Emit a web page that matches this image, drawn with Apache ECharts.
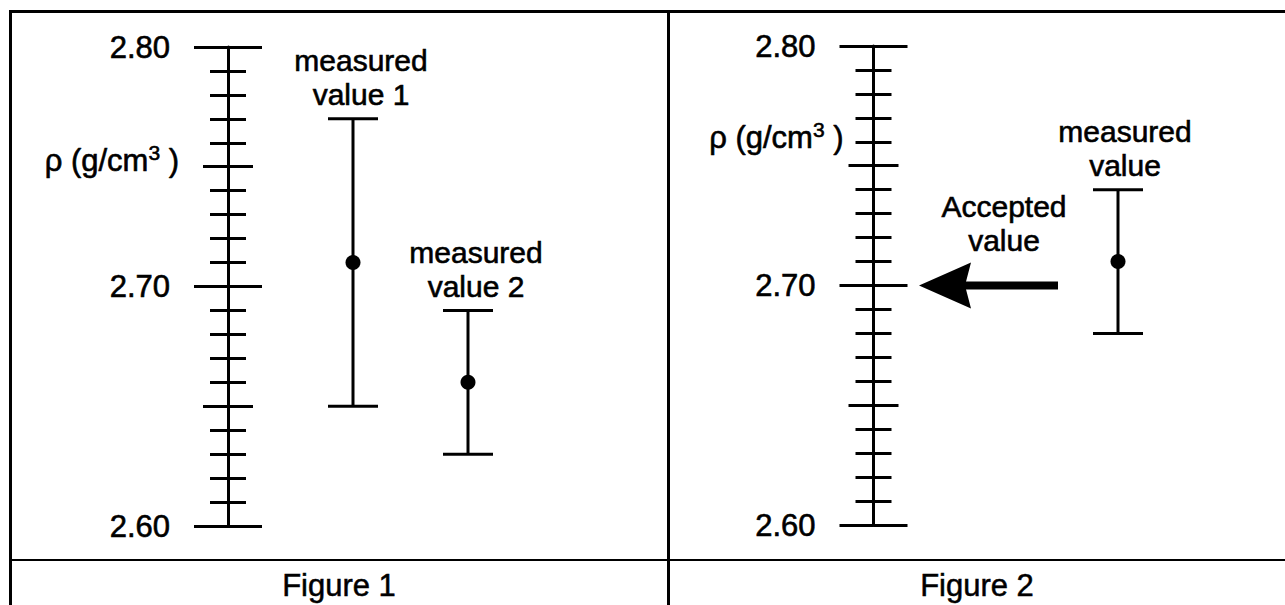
<!DOCTYPE html>
<html>
<head>
<meta charset="utf-8">
<title>Density measurements</title>
<script src="https://cdn.jsdelivr.net/npm/echarts@6/dist/echarts.min.js"></script>
<style>
  html, body { margin: 0; padding: 0; background: #ffffff; }
  #chart { width: 1285px; height: 605px; }
</style>
</head>
<body>
<div id="chart"></div>
<script>
// ---------------- data ----------------
const Y_MIN = 2.60;
const Y_MAX = 2.80;
const Y_TICK_LABELS = ['2.60', '2.70', '2.80'];
const Y_NAME_PARTS = ['ρ (g/cm', '3', ' )'];

const FIG1_CATEGORIES = ['measured\nvalue 1', 'measured\nvalue 2'];
const FIG1_MEANS = [2.71, 2.66];
const FIG1_ERRORS = [0.06, 0.03];

const FIG2_CATEGORIES = ['Accepted\nvalue', 'measured\nvalue'];
const FIG2_ACCEPTED = [2.70];
const FIG2_MEANS = [2.71];
const FIG2_ERRORS = [0.03];

const CAPTIONS = ['Figure 1', 'Figure 2'];

// ---------------- styles ----------------
const FONT = '"Liberation Sans", Arial, Helvetica, sans-serif';
const FS = 31;
const LABEL_FS = 30;
const LABEL_LH = 34;
const INK = '#000000';
const HEAVY = { textBorderColor: INK, textBorderWidth: 0.6 };

function tickLabel(v) {
  const t = Y_TICK_LABELS.find(s => Math.abs(parseFloat(s) - v) < 1e-6);
  return t || '';
}

function yAxesFor(gridIndex, offset, nameGap, namePad) {
  const base = {
    gridIndex: gridIndex, type: 'value', min: Y_MIN, max: Y_MAX,
    position: 'left', offset: offset,
    splitLine: { show: false }, axisLine: { show: false },
    axisLabel: { show: false }, axisTick: { show: false },
    minorTick: { show: false }, splitArea: { show: false }
  };
  const tickStyle = { color: INK, width: 3 };
  return [
    Object.assign({}, base, {
      interval: 0.1,
      axisLine: { show: true, lineStyle: { color: INK, width: 3 } },
      axisTick: { show: true, inside: false, length: 34, lineStyle: tickStyle },
      axisLabel: Object.assign({
        show: true, margin: 58, formatter: tickLabel,
        color: INK, fontSize: FS, fontFamily: FONT, padding: [0, 0, 6, 0]
      }, HEAVY),
      name: '{a|' + Y_NAME_PARTS[0] + '}{s|' + Y_NAME_PARTS[1] + '}{a|' + Y_NAME_PARTS[2] + '}',
      nameLocation: 'end', nameGap: nameGap,
      nameTextStyle: {
        color: INK, fontSize: FS, fontFamily: FONT,
        align: 'right', verticalAlign: 'middle', padding: [0, namePad, 0, 0],
        rich: {
          a: Object.assign({ color: INK, fontSize: FS, fontFamily: FONT, lineHeight: 34, verticalAlign: 'bottom' }, HEAVY),
          s: Object.assign({ color: INK, fontSize: 21, fontFamily: FONT, lineHeight: 34, verticalAlign: 'top' }, HEAVY)
        }
      }
    }),
    Object.assign({}, base, {
      interval: 0.1,
      axisTick: { show: true, inside: true, length: 34, lineStyle: tickStyle }
    }),
    Object.assign({}, base, {
      interval: 0.05,
      axisTick: { show: true, inside: false, length: 25, lineStyle: tickStyle },
      minorTick: { show: true, splitNumber: 5, length: 18, lineStyle: tickStyle }
    }),
    Object.assign({}, base, {
      interval: 0.05,
      axisTick: { show: true, inside: true, length: 25, lineStyle: tickStyle },
      minorTick: { show: true, splitNumber: 5, length: 18, lineStyle: tickStyle }
    })
  ];
}

function renderErrorBar(params, api) {
  const xi = api.value(0), m = api.value(1), e = api.value(2);
  const top = api.coord([xi, m + e]);
  const bot = api.coord([xi, m - e]);
  const hw = 25;
  const st = { stroke: INK, lineWidth: 3 };
  return {
    type: 'group',
    children: [
      { type: 'line', shape: { x1: top[0], y1: top[1], x2: bot[0], y2: bot[1] }, style: st },
      { type: 'line', shape: { x1: top[0] - hw, y1: top[1], x2: top[0] + hw, y2: top[1] }, style: st },
      { type: 'line', shape: { x1: bot[0] - hw, y1: bot[1], x2: bot[0] + hw, y2: bot[1] }, style: st }
    ]
  };
}

function renderArrow(params, api) {
  const p = api.coord([api.value(0), api.value(1)]);
  const y = p[1];
  const tip = p[0] - 85;
  const tail = p[0] + 54;
  return {
    type: 'group',
    children: [
      { type: 'line', shape: { x1: tip + 40, y1: y, x2: tail, y2: y }, style: { stroke: INK, lineWidth: 8 } },
      { type: 'polygon', shape: { points: [[tip, y], [tip + 52, y - 23], [tip + 46, y], [tip + 52, y + 23]] },
        style: { fill: INK } }
    ]
  };
}

function labelSeries(xAxisIndex, yAxisIndex, data, names, distance, dx) {
  return {
    type: 'scatter', xAxisIndex: xAxisIndex, yAxisIndex: yAxisIndex,
    data: data, symbolSize: 0, itemStyle: { color: 'transparent', opacity: 1 },
    silent: true, z: 5,
    label: Object.assign({
      show: true, position: 'top', distance: distance, offset: [dx, 0],
      formatter: p => names[p.dataIndex], opacity: 1,
      color: INK, fontSize: LABEL_FS, fontFamily: FONT, lineHeight: LABEL_LH, align: 'center'
    }, HEAVY),
    emphasis: { disabled: true }
  };
}

function dotSeries(xAxisIndex, yAxisIndex, data) {
  return {
    type: 'scatter', xAxisIndex: xAxisIndex, yAxisIndex: yAxisIndex, symbolSize: 15,
    itemStyle: { color: INK, opacity: 1 }, data: data, silent: true, z: 4,
    emphasis: { disabled: true }
  };
}

const chart = echarts.init(document.getElementById('chart'), null, { renderer: 'svg' });

const captionStyle = (t) => ({
  text: t, fill: INK, font: FS + 'px ' + FONT, fontSize: FS, fontFamily: FONT,
  align: 'center', verticalAlign: 'middle', textAlign: 'center', textVerticalAlign: 'middle',
  stroke: INK, lineWidth: 0.5
});

const option = {
  animation: false,
  backgroundColor: '#ffffff',
  grid: [
    { left: 353, top: 47, width: 115, height: 479, outerBoundsMode: 'none' },
    { left: 1004, top: 46, width: 114, height: 479, outerBoundsMode: 'none' }
  ],
  xAxis: [
    { gridIndex: 0, type: 'category', data: FIG1_CATEGORIES, boundaryGap: false, show: false },
    { gridIndex: 1, type: 'category', data: FIG2_CATEGORIES, boundaryGap: false, show: false }
  ],
  yAxis: [].concat(
    yAxesFor(0, 125, -112, 49),
    yAxesFor(1, 130.5, -90, 30)
  ),
  series: [
    // Figure 1
    {
      type: 'custom', xAxisIndex: 0, yAxisIndex: 0, renderItem: renderErrorBar,
      data: FIG1_MEANS.map((m, i) => [i, m, FIG1_ERRORS[i]]), silent: true, z: 3
    },
    dotSeries(0, 0, FIG1_MEANS.map((m, i) => [i, m])),
    labelSeries(0, 0, FIG1_MEANS.map((m, i) => [i, m + FIG1_ERRORS[i]]), FIG1_CATEGORIES, 7, 8),
    // Figure 2
    {
      type: 'custom', xAxisIndex: 1, yAxisIndex: 4, renderItem: renderArrow,
      data: FIG2_ACCEPTED.map(v => [0, v]), silent: true, z: 3
    },
    labelSeries(1, 4, FIG2_ACCEPTED.map(v => [0, v]), [FIG2_CATEGORIES[0]], 28, 0),
    {
      type: 'custom', xAxisIndex: 1, yAxisIndex: 4, renderItem: renderErrorBar,
      data: FIG2_MEANS.map((m, i) => [i + 1, m, FIG2_ERRORS[i]]), silent: true, z: 3
    },
    dotSeries(1, 4, FIG2_MEANS.map((m, i) => [i + 1, m])),
    labelSeries(1, 4, FIG2_MEANS.map((m, i) => [i + 1, m + FIG2_ERRORS[i]]), [FIG2_CATEGORIES[1]], 7, 7)
  ],
  graphic: [
    { type: 'rect', shape: { x: 9, y: 10, width: 1290, height: 3 }, style: { fill: INK }, silent: true },
    { type: 'rect', shape: { x: 9, y: 10, width: 3, height: 600 }, style: { fill: INK }, silent: true },
    { type: 'rect', shape: { x: 667, y: 10, width: 3, height: 600 }, style: { fill: INK }, silent: true },
    { type: 'rect', shape: { x: 9, y: 559, width: 1290, height: 2 }, style: { fill: INK }, silent: true },
    { type: 'text', x: 339, y: 585, style: captionStyle(CAPTIONS[0]), silent: true },
    { type: 'text', x: 977, y: 585, style: captionStyle(CAPTIONS[1]), silent: true }
  ]
};

chart.setOption(option);
</script>
</body>
</html>
